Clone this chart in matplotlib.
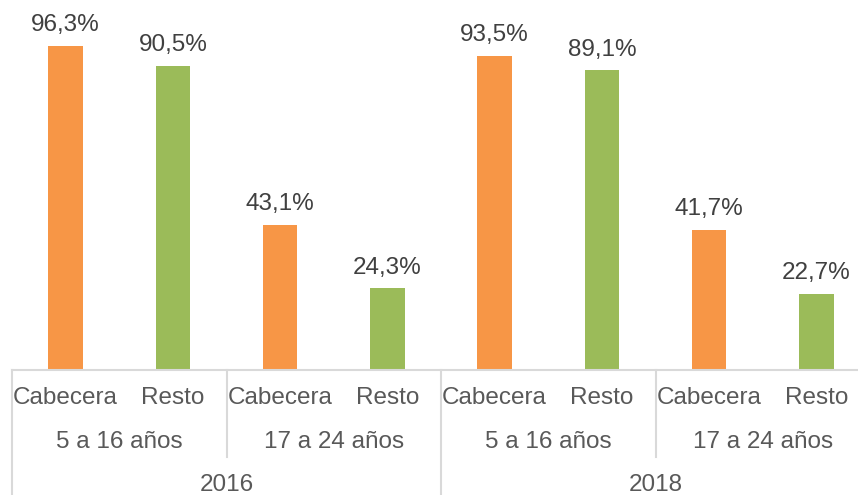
import matplotlib.pyplot as plt
import numpy as np

plt.rcParams['font.family'] = ['Liberation Sans', 'DejaVu Sans']

# datos
years = ['2016', '2018']
age_groups = ['5 a 16 años', '17 a 24 años']
zones = ['Cabecera', 'Resto']
values = [96.3, 90.5, 43.1, 24.3, 93.5, 89.1, 41.7, 22.7]

orange = '#F79646'
green = '#9BBB59'
text_col = '#595959'
line_col = '#D9D9D9'

fig = plt.figure(figsize=(8.58, 4.95), dpi=100)
# ejes: base en y=370 px, desde x=12 px hasta el borde derecho
ax = fig.add_axes([12 / 858, 125 / 495, 846 / 858, 370 / 495])

x = np.arange(len(values))
colors = [orange if i % 2 == 0 else green for i in range(len(values))]
bars = ax.bar(x, values, width=0.32, color=colors)
ax.bar_label(bars, labels=[f'{v:.1f}%'.replace('.', ',') for v in values],
             padding=7, fontsize=17.5, color='#404040')

ax.set_xlim(-0.5, -0.5 + 846 / 107.25)
ax.set_ylim(0, 110)
for s in ['top', 'right', 'left']:
    ax.spines[s].set_visible(False)
ax.spines['bottom'].set_color(line_col)
ax.spines['bottom'].set_linewidth(1.5)
ax.set_xticks([])
ax.set_yticks([])

trans = ax.get_xaxis_transform()
h = 370.0

# etiquetas de categorias
for i in range(len(values)):
    ax.text(i, -28 / h, zones[i % 2], transform=trans, ha='center', va='center',
            fontsize=17.5, color=text_col)
for j in range(4):
    ax.text(2 * j + 0.5, -72 / h, age_groups[j % 2], transform=trans, ha='center',
            va='center', fontsize=17.5, color=text_col)
for k in range(2):
    ax.text(4 * k + 1.5, -115 / h, years[k], transform=trans, ha='center',
            va='center', fontsize=17.5, color=text_col)

# separadores
for xs in [-0.5, 3.5, 7.5]:
    ax.plot([xs, xs], [0, -130 / h], transform=trans, color=line_col, lw=1.5, clip_on=False)
for xs in [1.5, 5.5]:
    ax.plot([xs, xs], [0, -87 / h], transform=trans, color=line_col, lw=1.5, clip_on=False)

fig.savefig('out.png', dpi=100)
